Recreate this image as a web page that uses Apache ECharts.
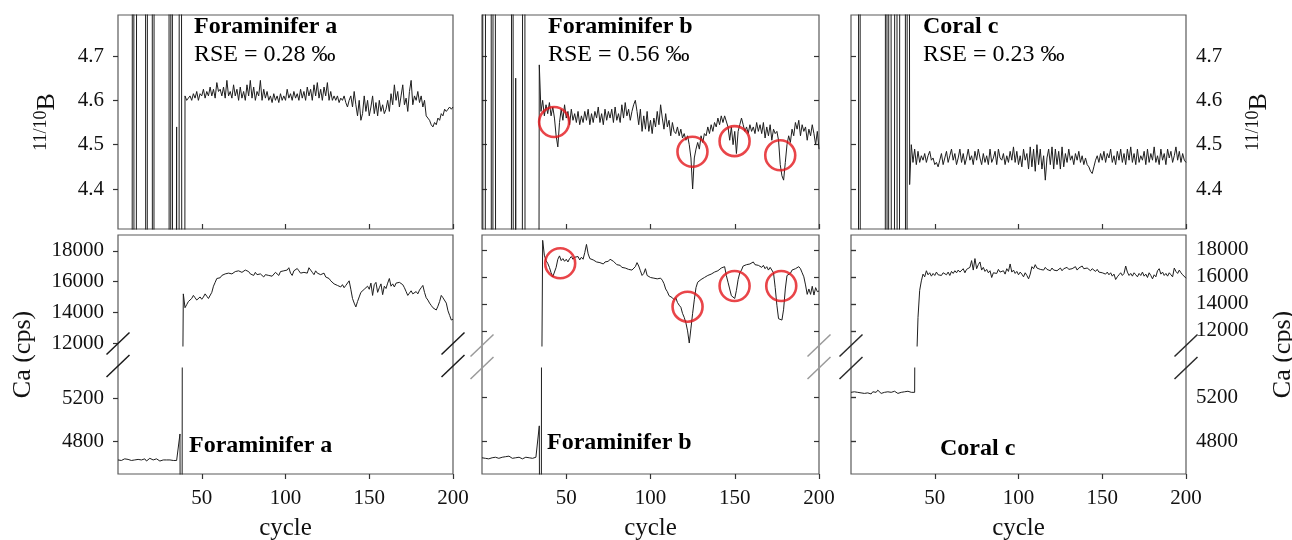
<!DOCTYPE html>
<html><head><meta charset="utf-8">
<script src="https://cdn.jsdelivr.net/npm/echarts@6/dist/echarts.min.js"></script>
<style>html,body{margin:0;padding:0;background:#fff}#c{width:1292px;height:540px}</style>
</head><body><div id="c"></div><script>
// ---- tick labels ----
const CYCLE_TICKS = [50, 100, 150, 200];
const RATIO_TICKS = [4.4, 4.5, 4.6, 4.7];
const CA_HIGH_TICKS = [12000, 14000, 16000, 18000];
const CA_LOW_TICKS = [4800, 5200];

// ---- 11/10B ratio per cycle (cycle 0..200); 0 / 9 = off-scale blank ratios ----
const ratioA = [0,0,0,0,0,0,0,0,0,9,0,0,9,9,9,9,9,0,9,9,9,0,9,9,9,9,9,9,9,9,9,0,9,0,0,4.54,0,9,9,0,
4.61,4.60,4.605,4.61,4.60,4.615,4.605,4.62,4.60,4.615,
4.61,4.625,4.605,4.62,4.61,4.63,4.61,4.625,4.605,4.64,
4.62,4.625,4.61,4.63,4.605,4.645,4.61,4.62,4.605,4.635,
4.61,4.625,4.60,4.63,4.605,4.62,4.60,4.635,4.61,4.645,
4.605,4.63,4.60,4.62,4.61,4.645,4.60,4.625,4.605,4.62,
4.60,4.61,4.595,4.615,4.60,4.61,4.595,4.615,4.60,4.61,
4.60,4.625,4.605,4.615,4.60,4.62,4.605,4.615,4.60,4.625,
4.605,4.62,4.60,4.63,4.61,4.625,4.60,4.635,4.61,4.64,
4.605,4.625,4.60,4.63,4.61,4.64,4.60,4.62,4.60,4.61,
4.60,4.61,4.595,4.605,4.60,4.61,4.595,4.585,4.60,4.61,
4.585,4.62,4.59,4.565,4.60,4.555,4.57,4.61,4.575,4.60,
4.565,4.585,4.61,4.57,4.595,4.565,4.60,4.575,4.59,4.57,
4.58,4.60,4.575,4.615,4.59,4.635,4.60,4.62,4.585,4.61,
4.635,4.59,4.605,4.575,4.62,4.645,4.59,4.61,4.60,4.62,
4.595,4.61,4.585,4.60,4.565,4.56,4.555,4.545,4.54,4.55,
4.545,4.56,4.555,4.57,4.565,4.58,4.575,4.58,4.585,4.58,
4.585];
const ratioB = [9,0,0,9,9,9,0,9,9,0,0,0,0,0,0,0,0,0,9,0,4.65,0,0,0,0,9,0,0,0,0,0,0,0,0,4.68,
4.575,4.60,4.565,4.59,4.57,4.595,4.565,4.585,4.56,4.52,
4.495,4.55,4.58,4.555,4.59,4.56,4.575,4.545,4.58,4.555,
4.57,4.55,4.575,4.545,4.565,4.55,4.575,4.555,4.58,4.545,
4.57,4.55,4.575,4.56,4.585,4.55,4.57,4.545,4.58,4.555,
4.575,4.56,4.58,4.55,4.585,4.555,4.57,4.55,4.59,4.56,
4.595,4.565,4.58,4.555,4.575,4.59,4.60,4.575,4.545,4.58,
4.53,4.565,4.535,4.575,4.53,4.555,4.525,4.56,4.54,4.575,
4.545,4.59,4.56,4.535,4.57,4.54,4.555,4.52,4.55,4.53,
4.525,4.54,4.52,4.535,4.515,4.525,4.51,4.52,4.50,4.47,
4.40,4.47,4.49,4.505,4.49,4.52,4.505,4.525,4.52,4.54,
4.525,4.545,4.53,4.55,4.54,4.56,4.545,4.565,4.55,4.565,
4.565,4.54,4.51,4.54,4.50,4.53,4.48,4.53,4.545,4.56,
4.545,4.53,4.54,4.525,4.545,4.53,4.54,4.525,4.55,4.53,
4.545,4.525,4.55,4.515,4.54,4.52,4.545,4.51,4.535,4.525,
4.53,4.51,4.455,4.43,4.42,4.46,4.50,4.52,4.505,4.535,
4.52,4.55,4.535,4.555,4.52,4.545,4.53,4.54,4.51,4.535,
4.52,4.545,4.525,4.50,4.53,4.49];
const ratioC = [0,0,0,0,0,9,0,0,0,0,0,0,0,0,0,0,0,0,0,0,0,9,0,9,9,0,0,9,0,0,9,9,9,0,9,4.41,
4.50,4.46,4.49,4.455,4.485,4.46,4.475,4.465,4.48,4.46,
4.475,4.485,4.465,4.47,4.455,4.46,4.45,4.465,4.48,4.455,
4.47,4.485,4.46,4.475,4.49,4.465,4.48,4.455,4.47,4.49,
4.46,4.48,4.455,4.47,4.49,4.465,4.475,4.455,4.485,4.465,
4.49,4.47,4.455,4.48,4.46,4.475,4.455,4.49,4.46,4.47,
4.485,4.455,4.49,4.47,4.465,4.48,4.455,4.475,4.46,4.485,
4.465,4.495,4.46,4.485,4.455,4.475,4.45,4.49,4.465,4.48,
4.445,4.495,4.45,4.49,4.44,4.50,4.455,4.49,4.445,4.475,
4.42,4.47,4.49,4.455,4.495,4.445,4.49,4.455,4.485,4.445,
4.495,4.45,4.48,4.46,4.49,4.465,4.475,4.455,4.48,4.465,
4.485,4.46,4.475,4.455,4.47,4.455,4.45,4.44,4.435,4.45,
4.465,4.475,4.46,4.48,4.465,4.485,4.46,4.48,4.47,4.49,
4.46,4.475,4.455,4.485,4.465,4.49,4.46,4.48,4.455,4.49,
4.465,4.495,4.46,4.48,4.455,4.49,4.46,4.475,4.465,4.485,
4.455,4.49,4.46,4.48,4.465,4.495,4.46,4.475,4.455,4.49,
4.465,4.48,4.455,4.49,4.47,4.485,4.46,4.475,4.495,4.465,
4.485,4.46,4.48,4.465,4.46];

// ---- Ca (cps) per cycle (cycle 0..200) ----
const caA = [4630,4635,4625,4630,4640,4625,4635,4630,4625,4635,
4630,4640,4635,4625,4630,4635,4640,4620,4630,4645,
4635,4630,4625,4640,4630,4620,4635,4630,4625,4630,
4620,4630,4635,4625,4630,4625,4640,4870,0,15200,
14300,14500,14700,14600,14900,15100,14950,14800,14900,15000,
14850,15000,15200,15050,14900,14850,15300,15700,15950,16200,
16300,16250,16400,16350,16500,16400,16550,16450,16500,16600,
16650,16550,16700,16650,16600,16700,16750,16850,16650,16500,
16550,16400,16600,16450,16350,16500,16450,16300,16450,16550,
16400,16500,16350,16450,16600,16500,16400,16650,16550,16700,
16600,16750,16900,16550,16400,16700,16600,16850,16700,16550,
16450,16600,16700,16550,16900,16750,16600,16450,16700,16550,
16650,16450,16350,16550,16300,16400,16200,16050,15950,15850,
15900,15750,15800,15650,15800,15600,15750,15850,16050,15500,
14900,14600,14350,14700,15000,15300,15200,15500,15400,15700,
15500,15900,15100,15800,15950,15300,15600,15850,15150,15700,
15550,15900,16200,15700,15850,15650,15900,15800,15950,16050,
15800,15600,15350,15100,15250,15400,15200,15100,15350,15200,
15450,15600,15750,15300,14950,14800,14600,14450,14300,14250,
14150,14400,14700,15100,14950,14850,14600,14100,13800,13500,
13550];
const caB = [4645,4650,4640,4645,4635,4650,4645,4640,4650,4645,
4640,4645,4650,4640,4655,4665,4660,4645,4640,4650,
4645,4640,4650,4645,4635,4645,4650,4640,4645,4650,
4640,4645,4650,4645,4940,0,18700,17600,17200,17000,
16700,16300,16000,16100,16700,17300,17550,17200,17350,17150,
17300,17100,17350,17500,17300,17450,17350,17500,17250,17450,
17300,17800,18400,17700,17350,17400,17250,17350,17100,17200,
17050,17150,16950,17100,17000,17150,17300,17350,17150,17050,
16900,16800,16850,16700,16800,16650,16700,16550,16650,16500,
16600,16750,17050,16800,16450,16100,16250,16600,16100,16050,
15950,16050,15900,16000,15850,15950,15900,15750,15500,15100,
14900,14600,14700,14450,14300,14450,14100,13900,13750,13300,
13000,12600,12000,11100,12200,13300,14300,15200,15600,15500,
15800,15700,15950,15900,16100,16000,16200,16150,16350,16300,
16450,16550,16650,16700,16750,16100,15600,15100,14600,14500,
14400,15000,15800,16300,16500,16800,16700,16900,16850,16950,
17050,17100,16900,17000,16850,16950,16700,16850,16600,16750,
16500,16700,16650,16300,15200,13900,12900,12800,12800,13600,
15100,16100,16000,16250,16500,16400,16600,16700,16750,16600,
16300,16000,15400,14700,15100,14700,15300,14650,15200,14900,
14950];
const caC = [5250,5245,5255,5240,5250,5260,5245,5250,5240,5255,
5245,5250,5235,5255,5260,5250,5270,5255,5240,5235,
5250,5245,5255,5240,5250,5245,5260,5250,5240,5255,
5250,5245,5255,5250,5260,5245,5250,5255,5250,9000,
13000,15000,15700,16200,
16000,16450,16150,16300,16050,16250,16100,16350,16150,16250,
16100,16300,16200,16150,16350,16100,16400,16250,16450,16300,
16500,16350,16400,16600,16300,16550,16450,16700,17200,16500,
17350,16600,16900,17100,16500,16700,16400,16550,16300,16450,
15950,16300,16400,16250,16550,16350,16300,16450,16200,16600,
16400,16950,16350,16500,16250,16400,16150,16350,16200,16000,
16300,16100,15850,16200,16750,16600,16900,16650,16750,16550,
16650,16500,16700,16550,16600,16450,16650,16500,16600,16450,
16550,16650,16450,16600,16500,16700,16550,16450,16600,16500,
16750,16500,16650,16550,16800,16600,16500,16650,16550,16450,
16600,16500,16400,16550,16350,16450,16300,16400,16200,16350,
16150,16300,16050,16200,15800,16000,16150,16300,16100,16250,
16800,16350,16100,16250,16050,16300,16150,16000,16250,16100,
16350,16050,16200,15950,16300,16100,15850,16150,16000,16450,
16600,16200,16350,16100,16250,16050,16300,16150,16000,16650,
16400,16250,16500,16300,16150,16200,15900];

// ---- highlighted anomalies (Foraminifer b) ----
const circlesRatioB = [[42.8, 4.551], [124.9, 4.484], [149.9, 4.508], [177.0, 4.476]];
const circlesCaB = [[46.4, 17000], [122.0, 13790], [149.9, 15320], [177.6, 15320]];

const panelTitles = ['Foraminifer a', 'Foraminifer b', 'Coral c'];
const rseTexts = ['RSE = 0.28 \u2030', 'RSE = 0.56 \u2030', 'RSE = 0.23 \u2030'];

const FONT = '"Liberation Serif", "Times New Roman", serif';
const toPairs = arr => arr.map((v, i) => [i, v]);
const plain = v => String(v);

const grids = [], xAxes = [], yAxes = [], series = [], graphics = [];
function addGrid(g, frame) {
  grids.push(Object.assign({ show: !!frame, borderColor: '#5a5a5a', borderWidth: 1.2, backgroundColor: 'transparent', outerBoundsMode: 'none', containLabel: false }, g));
  return grids.length - 1;
}
function tickStyle() { return { color: '#333', width: 1.2 }; }
function addX(gi, mode, extra) {
  const ax = { type: 'value', gridIndex: gi, min: 0, max: 200, axisLine: { show: false }, splitLine: { show: false },
    axisTick: { show: mode !== 'none', inside: mode === 'in', length: 5, customValues: CYCLE_TICKS, lineStyle: tickStyle() },
    axisLabel: { show: mode === 'label', customValues: CYCLE_TICKS, formatter: plain, margin: 14, fontFamily: FONT, fontSize: 21, color: '#111' } };
  xAxes.push(Object.assign(ax, extra || {})); return xAxes.length - 1;
}
function addY(gi, min, max, position, ticks, mode, extra) {
  const ax = { type: 'value', gridIndex: gi, min, max, position, axisLine: { show: false }, splitLine: { show: false },
    axisTick: { show: mode !== 'none', inside: mode === 'in', length: 5, customValues: ticks, lineStyle: tickStyle() },
    axisLabel: { show: mode === 'label', customValues: ticks, formatter: plain, margin: position === 'left' ? 14 : 10,
      fontFamily: FONT, fontSize: 21, color: '#111' } };
  yAxes.push(Object.assign(ax, extra || {})); return yAxes.length - 1;
}
function line(xi, yi, data) {
  series.push({ type: 'line', xAxisIndex: xi, yAxisIndex: yi, data: toPairs(data), symbol: 'none', silent: true,
    lineStyle: { color: '#1e1e1e', width: 1 }, animation: false });
}
function circles(xi, yi, data, size) {
  series.push({ type: 'scatter', xAxisIndex: xi, yAxisIndex: yi, data, symbol: 'circle', symbolSize: size, silent: true,
    itemStyle: { color: 'rgba(0,0,0,0)', borderColor: '#e3161c', borderWidth: 2.6 }, z: 5, animation: false });
}
const ratioName = { name: '{s|11/10}{b|B}', nameLocation: 'middle', nameRotate: 90,
  nameTextStyle: { fontFamily: FONT, color: '#111', rich: {
    s: { fontFamily: FONT, fontSize: 18, lineHeight: 18, verticalAlign: 'top', color: '#111' },
    b: { fontFamily: FONT, fontSize: 26, lineHeight: 28, verticalAlign: 'bottom', color: '#111' } } } };
const caName = { name: 'Ca (cps)', nameLocation: 'middle', nameRotate: 90,
  nameTextStyle: { fontFamily: FONT, fontSize: 26, color: '#111' } };

const panels = [
  { left: 118, width: 335, ratio: ratioA, ca: caA, high: [11810, 19030], low: [4500, 5480],
    side: 'left', slashColor: '#1a1a1a' },
  { left: 482, width: 337, ratio: ratioB, ca: caB, high: [10880, 19095], low: [4495, 5475],
    side: 'both', slashColor: '#9a9a9a' },
  { left: 851, width: 335, ratio: ratioC, ca: caC, high: [10880, 19095], low: [4495, 5475],
    side: 'right', slashColor: '#2a2a2a' }
];
const RMIN = 4.3098, RMAX = 4.7925;

panels.forEach((p, k) => {
  // ratio panel
  const gt = addGrid({ left: p.left, width: p.width, top: 15, height: 214 }, true);
  const xt = addX(gt, 'in');
  let yt;
  if (p.side === 'left') {
    yt = addY(gt, RMIN, RMAX, 'left', RATIO_TICKS, 'label', Object.assign({ nameGap: 58 }, ratioName));
  } else if (p.side === 'both') {
    yt = addY(gt, RMIN, RMAX, 'left', RATIO_TICKS, 'in');
    addY(gt, RMIN, RMAX, 'right', RATIO_TICKS, 'in');
  } else {
    yt = addY(gt, RMIN, RMAX, 'right', RATIO_TICKS, 'label', Object.assign({ nameGap: 58 }, ratioName));
  }
  line(xt, yt, p.ratio);
  if (k === 1) circles(xt, yt, circlesRatioB, 30);

  // Ca frame
  const gf = addGrid({ left: p.left, width: p.width, top: 235, height: 239 }, true);
  addX(gf, 'label', { name: 'cycle', nameLocation: 'middle', nameGap: 42,
    nameTextStyle: { fontFamily: FONT, fontSize: 25, color: '#111' } });
  if (p.side === 'left') addY(gf, 0, 1, 'left', [], 'none', Object.assign({ nameGap: 82 }, caName));
  else if (p.side === 'right') addY(gf, 0, 1, 'right', [], 'none', Object.assign({ nameGap: 84 }, caName));
  else addY(gf, 0, 1, 'left', [], 'none');

  // Ca upper and lower segments (broken axis)
  const gu = addGrid({ left: p.left, width: p.width, top: 235, height: 111 });
  const gl = addGrid({ left: p.left, width: p.width, top: 368, height: 106 });
  const xu = addX(gu, 'none'), xl = addX(gl, 'none');
  let yu, yl;
  if (p.side === 'left') {
    yu = addY(gu, p.high[0], p.high[1], 'left', CA_HIGH_TICKS, 'label');
    yl = addY(gl, p.low[0], p.low[1], 'left', CA_LOW_TICKS, 'label');
  } else if (p.side === 'both') {
    yu = addY(gu, p.high[0], p.high[1], 'left', CA_HIGH_TICKS, 'in');
    addY(gu, p.high[0], p.high[1], 'right', CA_HIGH_TICKS, 'in');
    yl = addY(gl, p.low[0], p.low[1], 'left', CA_LOW_TICKS, 'in');
    addY(gl, p.low[0], p.low[1], 'right', CA_LOW_TICKS, 'in');
  } else {
    yu = addY(gu, p.high[0], p.high[1], 'right', CA_HIGH_TICKS, 'label');
    addY(gu, p.high[0], p.high[1], 'left', CA_HIGH_TICKS, 'in');
    yl = addY(gl, p.low[0], p.low[1], 'right', CA_LOW_TICKS, 'label');
    addY(gl, p.low[0], p.low[1], 'left', CA_LOW_TICKS, 'in');
  }
  line(xu, yu, p.ca);
  line(xl, yl, p.ca);
  if (k === 1) circles(xu, yu, circlesCaB, 30);

  // axis-break slashes on both edges
  [p.left, p.left + p.width].forEach(ex => {
    const dy = k === 0 ? 0 : 2;
    [[354.5, 332.5], [377, 355]].forEach(([y1, y2]) => {
      graphics.push({ type: 'line', silent: true, z: 10,
        shape: { x1: ex - 11.5, y1: y1 + dy, x2: ex + 11.5, y2: y2 + dy },
        style: { stroke: p.slashColor, lineWidth: 1.5 } });
    });
  });
});

// panel annotations
const titlePos = [[194, 27, 189, 446], [548, 27, 547, 443], [923, 27, 940, 449]];
titlePos.forEach(([tx, ty, bx, by], k) => {
  graphics.push({ type: 'text', x: tx, y: ty, silent: true, z: 20,
    style: { text: panelTitles[k], font: 'bold 24px ' + FONT, fill: '#000', verticalAlign: 'middle' } });
  graphics.push({ type: 'text', x: tx, y: ty + 28, silent: true, z: 20,
    style: { text: rseTexts[k], font: '24px ' + FONT, fill: '#000', verticalAlign: 'middle' } });
  graphics.push({ type: 'text', x: bx, y: by, silent: true, z: 20,
    style: { text: panelTitles[k], font: 'bold 24px ' + FONT, fill: '#000', verticalAlign: 'middle' } });
});

const chart = echarts.init(document.getElementById('c'), null, { renderer: 'canvas' });
chart.setOption({ animation: false, backgroundColor: '#fff', grid: grids, xAxis: xAxes, yAxis: yAxes, series, graphic: graphics });
</script></body></html>
